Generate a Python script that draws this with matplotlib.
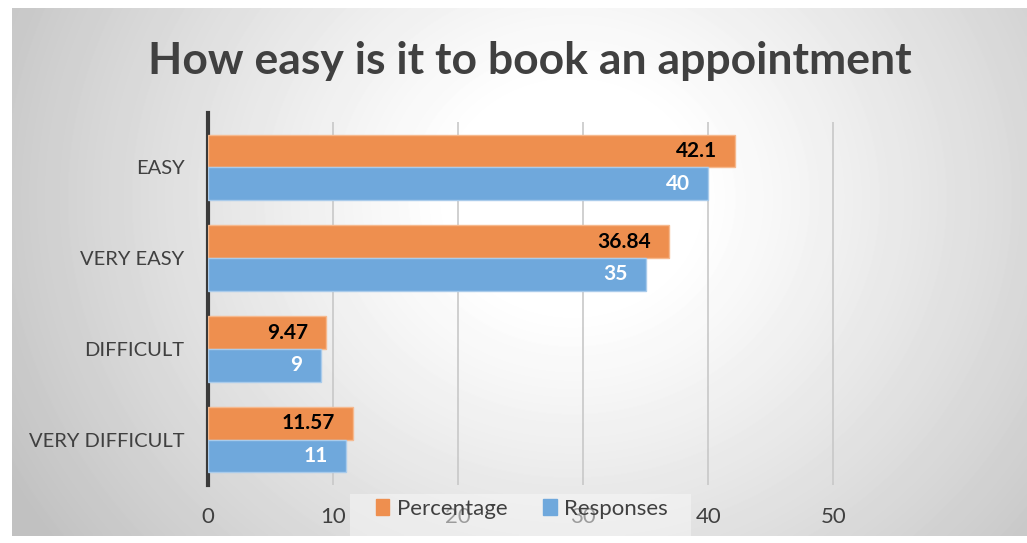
import numpy as np
import matplotlib as mpl
import matplotlib.pyplot as plt
from matplotlib.patches import Patch, Rectangle

mpl.rc('font', family=['Lato', 'DejaVu Sans'])

categories = ['EASY', 'VERY EASY', 'DIFFICULT', 'VERY DIFFICULT']
percentage = [42.1, 36.84, 9.47, 11.57]
responses = [40, 35, 9, 11]
pct_labels = ['42.1', '36.84', '9.47', '11.57']
resp_labels = ['40', '35', '9', '11']
xticks = [0, 10, 20, 30, 40, 50]

orange = '#ee8f4f'
blue = '#6fa8dc'

W, H = 1027, 543
fig = plt.figure(figsize=(W / 100, H / 100), dpi=100)

# gray radial gradient behind the chart
bg = fig.add_axes([12 / W, 1 - 536 / H, 1 - 12 / W, (536 - 8) / H])
xx, yy = np.meshgrid(np.arange(W - 12), np.arange(536 - 8))
r = np.hypot(xx - 560, (yy - 190) * 1.1)
shade = np.clip(1 - 0.24 * np.clip((r - 120) / 520, 0, 1) ** 1.1, 0, 1)
bg.imshow(shade, cmap='gray', vmin=0, vmax=1, aspect='auto', interpolation='bilinear')
bg.axis('off')

ax = fig.add_axes([208 / W, 1 - 485 / H, 628 / W, 363 / H])
ax.patch.set_alpha(0)

y = np.arange(len(categories))
h = 0.36
ax.barh(y - 0.18, percentage, height=h, color=orange, edgecolor='#f6b98e', linewidth=1, zorder=3)
ax.barh(y + 0.18, responses, height=h, color=blue, edgecolor='#a9cbeb', linewidth=1, zorder=3)

for i in range(len(categories)):
    ax.annotate(pct_labels[i], (percentage[i], y[i] - 0.18), xytext=(-13, 0), textcoords='offset points',
                ha='right', va='center', fontsize=15, fontweight='bold', color='black', zorder=4)
    ax.annotate(resp_labels[i], (responses[i], y[i] + 0.18), xytext=(-13, 0), textcoords='offset points',
                ha='right', va='center', fontsize=15, fontweight='bold', color='white', zorder=4)

ax.set_xlim(0, 50.2)
ax.set_ylim(3.5, -0.5)
ax.set_xticks(xticks)
ax.set_yticks(y)
ax.set_yticklabels(categories)
ax.grid(axis='x', color='#c8c8c8', linewidth=1.2, zorder=0)
ax.tick_params(axis='x', length=0, pad=16, labelsize=16, labelcolor='#404040')
ax.tick_params(axis='y', length=0, pad=17, labelsize=14.5, labelcolor='#404040')
for s in ['top', 'right', 'bottom']:
    ax.spines[s].set_visible(False)
ax.spines['left'].set_linewidth(3)
ax.spines['left'].set_color('#3a3a3a')
ax.spines['left'].set_bounds(-0.6, 3.5)

fig.text(530 / W, 1 - 61 / H, 'How easy is it to book an appointment', ha='center', va='center',
         fontsize=32, fontweight='bold', color='#404040')

# legend panel, semi-transparent like the original, sits over the tick labels
fig.patches.append(Rectangle((350 / W, 1 - 536 / H), 341 / W, 42 / H, transform=fig.transFigure,
                             facecolor='#f8f8f8', alpha=0.5, edgecolor='none', zorder=5))
handles = [Patch(facecolor=orange, edgecolor=orange), Patch(facecolor=blue, edgecolor=blue)]
leg = fig.legend(handles, ['Percentage', 'Responses'], loc='center', bbox_to_anchor=(522 / W, 1 - 509 / H),
                 ncol=2, frameon=False, fontsize=16, handlelength=0.6, handleheight=0.7,
                 handletextpad=0.35, columnspacing=1.6)
leg.set_zorder(6)
for t in leg.get_texts():
    t.set_color('#404040')

fig.savefig('out.png', dpi=100)
